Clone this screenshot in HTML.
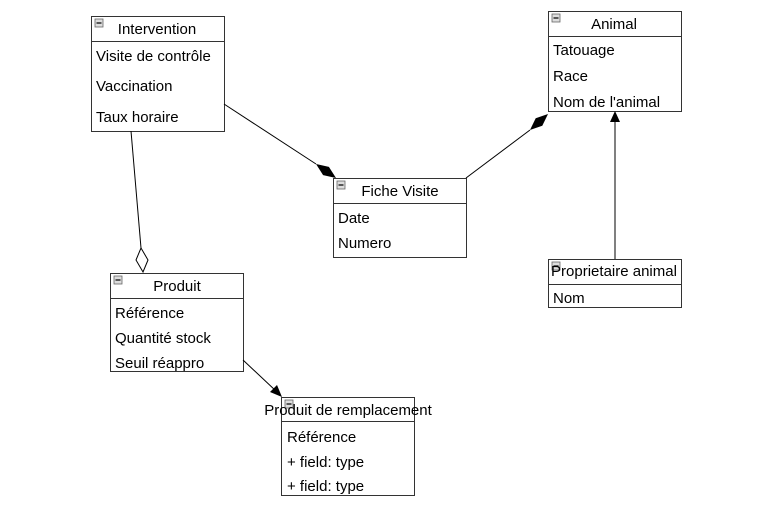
<!DOCTYPE html>
<html><head><meta charset="utf-8"><style>
html,body{margin:0;padding:0;background:#fff;}
svg text{font-family:"Liberation Sans",Arial,sans-serif;font-size:15px;fill:#000;}
</style></head><body>
<svg width="770" height="507" viewBox="0 0 770 507" xmlns="http://www.w3.org/2000/svg">
<defs>
<g id="mi"><rect x="0" y="0" width="8" height="8" fill="#ddd" stroke="#666" stroke-width="0.8"/><line x1="1.5" y1="4" x2="6.5" y2="4" stroke="#000" stroke-width="1.2"/></g>
</defs>
<g fill="#fff" stroke="#333" stroke-width="1">
<rect x="91.5" y="16.5" width="133" height="115"/>
<rect x="548.5" y="11.5" width="133" height="100"/>
<rect x="333.5" y="178.5" width="133" height="79"/>
<rect x="110.5" y="273.5" width="133" height="98"/>
<rect x="548.5" y="259.5" width="133" height="48"/>
<rect x="281.5" y="397.5" width="133" height="98"/>
</g>
<g stroke="#333" stroke-width="1">
<line x1="91" y1="41.5" x2="225" y2="41.5"/>
<line x1="548" y1="36.5" x2="682" y2="36.5"/>
<line x1="333" y1="203.5" x2="467" y2="203.5"/>
<line x1="110" y1="298.5" x2="244" y2="298.5"/>
<line x1="548" y1="284.5" x2="682" y2="284.5"/>
<line x1="281" y1="421.5" x2="415" y2="421.5"/>
</g>
<use href="#mi" x="95" y="19"/>
<use href="#mi" x="552" y="14"/>
<use href="#mi" x="337" y="181"/>
<use href="#mi" x="114" y="276"/>
<use href="#mi" x="552" y="262"/>
<use href="#mi" x="285" y="400"/>
<text x="157" y="34" text-anchor="middle">Intervention</text>
<text x="96" y="61">Visite de contrôle</text>
<text x="96" y="91">Vaccination</text>
<text x="96" y="122">Taux horaire</text>
<text x="614" y="29" text-anchor="middle">Animal</text>
<text x="553" y="55">Tatouage</text>
<text x="553" y="81">Race</text>
<text x="553" y="107">Nom de l'animal</text>
<text x="400" y="196" text-anchor="middle">Fiche Visite</text>
<text x="338" y="223">Date</text>
<text x="338" y="248">Numero</text>
<text x="177" y="291" text-anchor="middle">Produit</text>
<text x="115" y="318">Référence</text>
<text x="115" y="343">Quantité stock</text>
<text x="115" y="368">Seuil réappro</text>
<text x="614" y="276" text-anchor="middle">Proprietaire animal</text>
<text x="553" y="303">Nom</text>
<text x="348" y="415" text-anchor="middle">Produit de remplacement</text>
<text x="287" y="442">Référence</text>
<text x="287" y="467">+ field: type</text>
<text x="287" y="491">+ field: type</text>
<g stroke="#000" stroke-width="1" fill="none">
<line x1="224" y1="104" x2="316" y2="164"/>
<line x1="466" y1="178" x2="530" y2="130"/>
<line x1="131" y1="131" x2="141" y2="248"/>
<line x1="243" y1="360" x2="276" y2="391"/>
<line x1="615" y1="259" x2="615" y2="120"/>
</g>
<polygon points="336,178 323.1,175.1 316,164 328.9,166.9" fill="#000"/>
<polygon points="548,114 542.3,125.7 530,130 535.7,118.3" fill="#000"/>
<polygon points="143,272 148,260 141,248 136,260" fill="#fff" stroke="#000" stroke-width="1"/>
<polygon points="282,397 270,392 277,385" fill="#000"/>
<polygon points="615,111 610,122 620,122" fill="#000"/>
</svg>
</body></html>
